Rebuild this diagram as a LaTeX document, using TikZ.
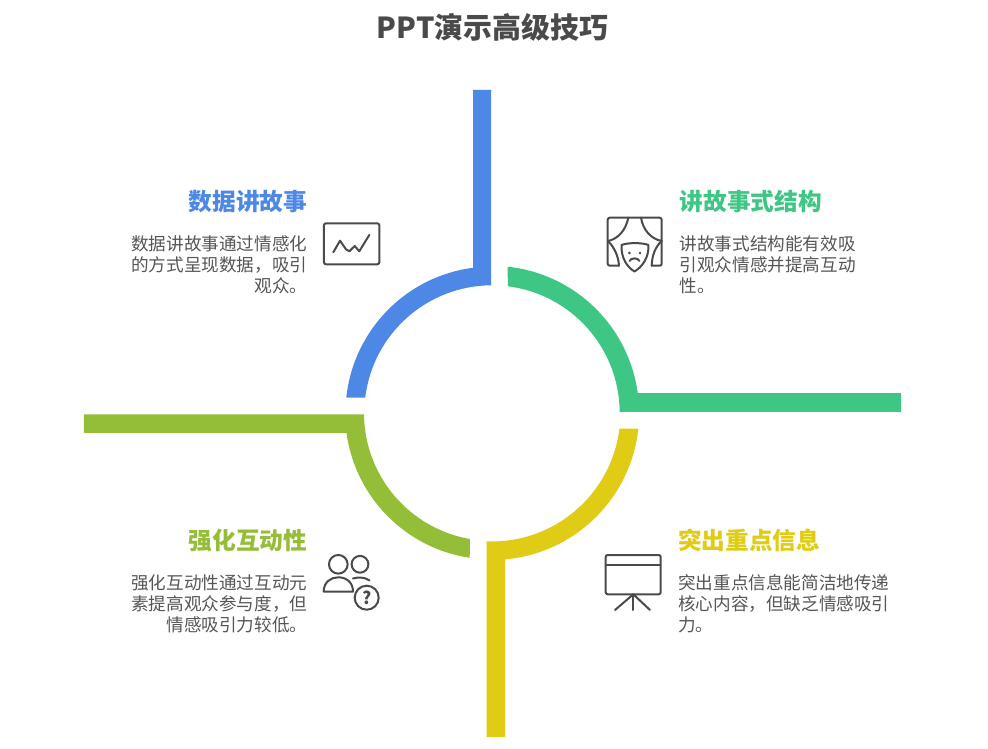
\documentclass[tikz,border=0pt]{standalone}
\usepackage{fontspec}
\setmainfont{Noto Sans CJK SC}
\definecolor{bandblue}{HTML}{4E88E7}
\definecolor{bandgreen}{HTML}{3EC784}
\definecolor{bandyellow}{HTML}{E0CC14}
\definecolor{bandlime}{HTML}{94BD38}
\definecolor{inkgray}{HTML}{4A4A4A}
\definecolor{textgray}{HTML}{555555}
\tikzset{
  headtext/.style={inner sep=0pt, font=\fontsize{17.75}{21}\selectfont\bfseries},
  bodytext/.style={inner sep=0pt, text=textgray, font=\fontsize{13.2}{15.75}\selectfont},
  icon/.style={draw=inkgray, line width=1.5pt, line join=round, line cap=round}
}

\begin{document}
\begin{tikzpicture}[x=0.75pt, y=0.75pt]
  \useasboundingbox (-492,-336) rectangle (496,413);

  % bands, around the centre of the ring
  \fill[bandblue] (-18.9,323) -- (-1,323) -- (-1,127.7)
    arc[start angle=90.45, end angle=173.1, radius=127.7] -- (-145.7,15.3)
    arc[start angle=174, end angle=97.4, radius=146.5] -- cycle;
  \fill[bandgreen] (15.7,146.3) arc[start angle=83.9, end angle=7.7, radius=147]
    -- (409,19.83) -- (409,1) -- (127.7,1)
    arc[start angle=0.45, end angle=82.9, radius=127.7] -- cycle;
  \fill[bandyellow] (127.4,-15.7) arc[start angle=-7, end angle=-92.4, radius=128.4]
    -- (-5.3,-324) -- (13,-324) -- (13,-146.4)
    arc[start angle=-85, end angle=-6.1, radius=147] -- cycle;
  \fill[bandlime] (-408,-1.3) -- (-128,-1.3)
    arc[start angle=180.6, end angle=260.1, radius=128] -- (-22.3,-144.8)
    arc[start angle=261.4, end angle=187.85, radius=146.5] -- (-408,-20) -- cycle;

  \begin{scope}[shift={(-492,413)}, yscale=-1]
    \node[inner sep=0pt, text=inkgray, font=\fontsize{21.7}{25}\selectfont\bfseries] (title) at (492.5,27) {PPT演示高级技巧};

    % labels
    \node[headtext, text=bandblue, anchor=east] (storyhead) at (307.5,201.5) {数据讲故事};
    \node[bodytext, align=right, anchor=east] (storybody) at (307.5,265) {数据讲故事通过情感化\\的方式呈现数据，吸引\\观众。};
    \node[headtext, text=bandgreen, anchor=west] (plothead) at (679.5,201.5) {讲故事式结构};
    \node[bodytext, align=left, anchor=west] (plotbody) at (679.5,265) {讲故事式结构能有效吸\\引观众情感并提高互动\\性。};
    \node[headtext, text=bandyellow, anchor=west] (keyhead) at (678,540.5) {突出重点信息};
    \node[bodytext, align=left, anchor=west] (keybody) at (678,603.5) {突出重点信息能简洁地传递\\核心内容，但缺乏情感吸引\\力。};
    \node[headtext, text=bandlime, anchor=east] (talkhead) at (307.5,540.5) {强化互动性};
    \node[bodytext, align=right, anchor=east] (talkbody) at (307.5,603.5) {强化互动性通过互动元\\素提高观众参与度，但\\情感吸引力较低。};

    % chart icon
    \draw[icon, rounded corners=1.5pt] (324,223.3) rectangle (379.3,264.3);
    \draw[icon] (333.3,252.3) -- (340,240.7) -- (346,249.3) -- (349.3,251.3) -- (354.7,246) -- (359.3,251.3) -- (369.3,235);

    % stage icon
    \draw[icon, rounded corners=1.5pt] (619,265.7) -- (607.7,265.7) -- (607.7,217.7) -- (661.7,217.7) -- (661.7,265.7) -- (651.7,265.7);
    \draw[icon] (628.3,217.7) .. controls (626,230) and (618,239) .. (608,241);
    \draw[icon] (608,241) .. controls (614,247) and (618.5,256) .. (619,265.7);
    \draw[icon] (641,217.7) .. controls (643,230) and (651,239) .. (661.7,241);
    \draw[icon] (661.7,241) .. controls (655,247) and (652,256) .. (651.7,265.7);
    \draw[icon] (621.5,245) .. controls (628,242.5) and (642,242.5) .. (648.5,245)
      .. controls (649,258) and (642,267) .. (634.5,271.5)
      .. controls (627,267) and (621,258) .. cycle;
    \fill[inkgray] (629.3,253) circle (1.1pt);
    \fill[inkgray] (640,253) circle (1.1pt);
    \draw[icon] (629.5,261) .. controls (631,257.5) and (638,257.5) .. (639.5,261);

    % people icon
    \draw[icon] (338.3,564.3) circle (7pt);
    \draw[icon] (360,564.3) circle (6.3pt);
    \draw[icon] (323.7,591.5) .. controls (323.7,582) and (331,577.3) .. (338.3,577.3)
      .. controls (346,577.3) and (353,582) .. (353,591.5) -- cycle;
    \draw[icon] (353,578.5) .. controls (358,577) and (365,577) .. (369.5,580.5);
    \draw[icon] (366.7,597.7) circle (9pt);
    \node[inner sep=0pt, text=inkgray, font=\fontsize{13}{13}\selectfont\bfseries] (quest) at (366.7,597.7) {?};

    % board icon
    \draw[icon, rounded corners=1.5pt] (605.7,555) rectangle (660.7,594.3);
    \draw[icon] (605.7,565) -- (660.7,565);
    \draw[icon] (633.3,594.3) -- (615,610);
    \draw[icon] (633.3,594.3) -- (633.3,610);
    \draw[icon] (633.3,594.3) -- (650,610);
  \end{scope}
\end{tikzpicture}
\end{document}
